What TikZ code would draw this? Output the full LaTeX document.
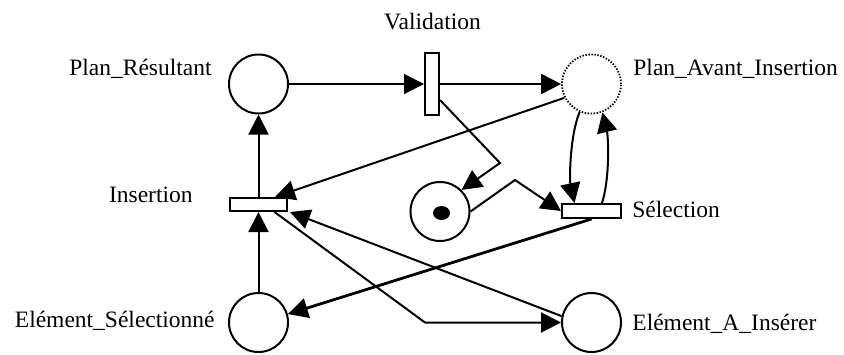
\documentclass[tikz,border=0pt]{standalone}
\usepackage{fontspec}
\setmainfont{Liberation Serif}
\usetikzlibrary{arrows.meta,calc,shapes.geometric}
\begin{document}
\begin{tikzpicture}[x=0.5pt,y=-0.5pt,
  place/.style={circle,draw,line width=1pt,minimum size=29.5pt,inner sep=0pt},
  virtualplace/.style={place,line width=0.9pt,dash pattern=on 0.7pt off 0.8pt},
  trans/.style={rectangle,draw,line width=1pt,inner sep=0pt,fill=white},
  arc/.style={line width=1pt,-{Triangle[length=10pt,width=10pt]}},
  lbl/.style={font=\fontsize{11.75pt}{14pt}\selectfont,inner sep=0pt}]
\useasboundingbox[fill=white] (0,0) rectangle (844,354);

% places
\node[place] (PR) at (258.5,84) {};
\node[virtualplace] (PA) at (591.5,84) {};
\node[place] (TK) at (440,211.5) {};
\node[fill,ellipse,minimum width=8.5pt,minimum height=7pt,inner sep=0pt] (tok) at (441.5,213) {};
\node[place] (ES) at (258.5,322.5) {};
\node[place] (EA) at (591.5,322.5) {};

% transitions
\node[trans,minimum width=7pt,minimum height=31pt] (V) at (432,84) {};
\node[trans,minimum width=28.5pt,minimum height=6.5pt] (I) at (258.5,204.5) {};
\node[trans,minimum width=29.5pt,minimum height=7pt] (S) at (591.5,211) {};

% labels
\node[lbl,anchor=base] (lV) at (432.5,29) {Validation};
\node[lbl,anchor=base east] (lPR) at (212,75) {Plan\_Résultant};
\node[lbl,anchor=base west] (lPA) at (633,75) {Plan\_Avant\_Insertion};
\node[lbl,anchor=base east] (lI) at (193,202) {Insertion};
\node[lbl,anchor=base west] (lS) at (632,217) {Sélection};
\node[lbl,anchor=base east] (lES) at (215,327) {Elément\_Sélectionné};
\node[lbl,anchor=base west] (lEA) at (632,330) {Elément\_A\_Insérer};

% bend points
\coordinate (k1) at (500,163);
\coordinate (k2) at (515,180);
\coordinate (k3) at (425,322.5);

% arcs
\draw[arc] (PR) -- (V);
\draw[arc] (V) -- (PA);
\draw[arc] ($(V.east)+(0,16)$) -- (k1) -- (TK.45);
\draw[arc] (TK.east) -- (k2) -- (S.west);
\draw[arc] (PA.207) -- ($(I.north east)+(-13,0)$);
\draw[arc] (I) -- (PR);
\draw[arc] (ES) -- (I);
\draw[arc] (PA.247) .. controls +(-10,24) and +(-5,-23) .. ($(S.north)+(-17,0)$);
\draw[arc] ($(S.north)+(10.5,0)$) .. controls +(8,-25) and +(6,25) .. (PA.291);
\draw[arc,line width=1.4pt] (S.south) -- (ES.16);
\draw[arc] ($(I.south)+(16,0)$) -- (k3) -- (EA.west);
\draw[arc] (EA.168) -- ($(I.south east)+(2,0)$);
\end{tikzpicture}
\end{document}
